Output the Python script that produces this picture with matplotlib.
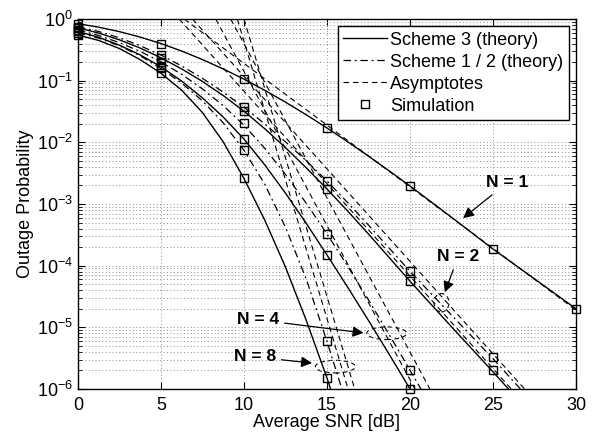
import numpy as np
import matplotlib
matplotlib.use('Agg')
import matplotlib.pyplot as plt
from matplotlib.lines import Line2D
from matplotlib.patches import Ellipse
from matplotlib.ticker import NullFormatter

plt.rcParams['font.family'] = ['Liberation Sans', 'DejaVu Sans']
plt.rcParams['mathtext.default'] = 'regular'
plt.rcParams['font.size'] = 13

# theory curves, values (SNR in dB, outage probability)
snr_n1 = [0, 1.25, 2.5, 3.75, 5, 6.25, 7.5, 8.75, 10, 11.25, 12.5, 13.75, 15, 16.25, 17.5, 18.75,
          20, 22.5, 25, 27.5, 30]
p_n1 = [0.839, 0.737, 0.624, 0.509, 0.40, 0.302, 0.220, 0.155, 0.106, 0.0698, 0.0448, 0.028,
        0.0171, 0.0102, 5.97e-3, 3.44e-3, 1.96e-3, 6.1e-4, 1.86e-4, 6.1e-5, 2.0e-5]

snr_n2 = [0, 1.25, 2.5, 3.75, 5, 6.25, 7.5, 8.75, 10, 11.25, 12.5, 13.75, 15, 16.25, 17.5,
          20, 22.5, 25, 27.5]
p_n2_s12 = [0.75, 0.627, 0.495, 0.369, 0.26, 0.173, 0.109, 0.0652, 0.037, 0.0199, 0.0102, 5.03e-3,
            2.36e-3, 1.05e-3, 4.55e-4, 8.1e-5, 1.58e-5, 3.1e-6, 5.6e-7]
p_n2_s3 = [0.72, 0.591, 0.459, 0.338, 0.235, 0.155, 0.097, 0.0574, 0.032, 0.01665, 8.2e-3, 3.87e-3,
           1.75e-3, 7.66e-4, 3.26e-4, 5.6e-5, 1.02e-5, 1.9e-6, 3.4e-7]

snr_n4 = [0, 1.25, 2.5, 3.75, 5, 6.25, 7.5, 8.75, 10, 11.25, 12.5, 13.75, 15, 16.25, 17.5, 18.75,
          20, 21.25]
p_n4_s12 = [0.67, 0.541, 0.413, 0.298, 0.202, 0.1265, 0.0735, 0.0394, 0.019, 8.0e-3, 3.02e-3,
            1.03e-3, 3.27e-4, 9.8e-5, 2.79e-5, 7.6e-6, 2.02e-6, 5.3e-7]
p_n4_s3 = [0.63, 0.505, 0.376, 0.262, 0.168, 0.0983, 0.0525, 0.0257, 0.0113, 4.32e-3, 1.5e-3,
           4.86e-4, 1.49e-4, 4.46e-5, 1.29e-5, 3.64e-6, 1.0e-6, 2.8e-7]

snr_n8 = [0, 1.25, 2.5, 3.75, 5, 6.25, 7.5, 8.75, 10, 11.25, 12.5, 13.75, 15, 16.25]
p_n8_s12 = [0.60, 0.49, 0.368, 0.253, 0.157, 0.0911, 0.047, 0.0207, 7.45e-3, 2.1e-3, 4.19e-4,
            6.09e-5, 5.92e-6, 4.98e-7]
p_n8_s3 = [0.55, 0.449, 0.332, 0.219, 0.132, 0.070, 0.0304, 0.01018, 2.6e-3, 5.5e-4, 9.5e-5,
           1.30e-5, 1.51e-6, 1.45e-7]

# simulation points
sim_snr = [0, 5, 10, 15, 20, 25, 30]
sim_n1 = [0.84, 0.40, 0.106, 0.0171, 1.96e-3, 1.86e-4, 2.0e-5]
sim_n2_s12 = [0.75, 0.26, 0.037, 2.36e-3, 8.2e-5, 3.3e-6]
sim_n2_s3 = [0.72, 0.235, 0.032, 1.75e-3, 5.6e-5, 2.0e-6]
sim_n4_s12 = [0.67, 0.20, 0.0205, 3.27e-4, 2.0e-6]
sim_n4_s3 = [0.63, 0.168, 0.0113, 1.49e-4, 1.0e-6]
sim_n8_s12 = [0.60, 0.158, 0.0075, 6.0e-6]
sim_n8_s3 = [0.55, 0.132, 0.0026, 1.5e-6]

# high-SNR asymptotes (straight lines), two end points each
asym_x = [[6.4, 30], [6.1, 26.1], [6.9, 26.9], [8.3, 20.3], [9.2, 21.2], [9.6, 16.27], [10.0, 16.67]]
asym_y = [[1, 1.9e-5], [1, 1e-6], [1, 1e-6], [1, 1e-6], [1, 1e-6], [1, 1e-6], [1, 1e-6]]

x_ticks = [0, 5, 10, 15, 20, 25, 30]
y_ticks = [1e-6, 1e-5, 1e-4, 1e-3, 1e-2, 1e-1, 1e0]

fig = plt.figure(figsize=(5.95, 4.37), dpi=100)
ax = fig.add_axes([0.131, 0.110, 0.837, 0.8465])
ax.set_yscale('log')
ax.set_xlim(0, 30)
ax.set_ylim(1e-6, 1)

solid = dict(color='k', lw=1.0, ls='-')
dashdot = dict(color='k', lw=0.9, ls=(0, (6, 3, 1.5, 3)))
dashed = dict(color='k', lw=0.8, ls=(0, (5, 3.5)))

for xs, ys in zip(asym_x, asym_y):
    ax.plot(xs, ys, **dashed)

ax.plot(snr_n1, p_n1, **solid)
ax.plot(snr_n2, p_n2_s12, **dashdot)
ax.plot(snr_n2, p_n2_s3, **solid)
ax.plot(snr_n4, p_n4_s12, **dashdot)
ax.plot(snr_n4, p_n4_s3, **solid)
ax.plot(snr_n8, p_n8_s12, **dashdot)
ax.plot(snr_n8, p_n8_s3, **solid)

for sim in [sim_n1, sim_n2_s12, sim_n2_s3, sim_n4_s12, sim_n4_s3, sim_n8_s12, sim_n8_s3]:
    ax.plot(sim_snr[:len(sim)], sim, ls='none', marker='s', ms=5.5, mfc='none',
            mec='k', mew=1.0, clip_on=False, zorder=5)

# grid and ticks, matlab style
ax.set_xticks(x_ticks)
ax.set_yticks(y_ticks)
minor_y = [m * d for d in y_ticks[:-1] for m in range(2, 10)]
ax.set_yticks(minor_y, minor=True)
ax.yaxis.set_minor_formatter(NullFormatter())
ax.grid(True, which='major', axis='both', color='0.55', ls=(0, (1, 2.5)), lw=0.7)
ax.grid(True, which='minor', axis='y', color='0.55', ls=(0, (1, 2.5)), lw=0.7)
ax.tick_params(which='both', direction='in', top=True, right=True, labelsize=13)
ax.tick_params(which='major', length=5)
ax.tick_params(which='minor', length=3)
ax.tick_params(axis='x', pad=6)
for sp in ax.spines.values():
    sp.set_linewidth(1.0)

ax.set_xlabel('Average SNR [dB]', fontsize=13, labelpad=0)
ax.set_ylabel('Outage Probability', fontsize=13, labelpad=2)

# ellipses grouping curves (drawn in axes fraction so they stay round on log axis)
ell_centers = [(18.6, 8.0e-6), (15.5, 2.3e-6), (21.9, 2.5e-5)]
ell_sizes = [(0.08, 0.034), (0.08, 0.034), (0.03, 0.05)]
to_axes = ax.transAxes.inverted()
for (cx, cy), (w, h) in zip(ell_centers, ell_sizes):
    px = to_axes.transform(ax.transData.transform((cx, cy)))
    ax.add_patch(Ellipse(px, w, h, transform=ax.transAxes, fill=False,
                         ec='k', lw=0.8, ls=(0, (4, 3))))

# labels with arrows
labels = ['N = 1', 'N = 2', 'N = 4', 'N = 8']
label_pos = [(25.85, 2.2e-3), (22.9, 1.38e-4), (10.85, 1.32e-5), (10.66, 3.3e-6)]
arrow_tip = [(23.2, 5.9e-4), (22.1, 3.7e-5), (17.2, 8.1e-6), (14.1, 2.63e-6)]
for txt, pos, tip in zip(labels, label_pos, arrow_tip):
    ax.annotate(txt, xy=tip, xytext=pos, ha='center', va='center',
                fontsize=12.5, fontweight='bold',
                arrowprops=dict(arrowstyle='-|>', color='k', lw=0.9,
                                mutation_scale=16, shrinkA=2, shrinkB=0))

handles = [Line2D([], [], **solid),
           Line2D([], [], **dashdot),
           Line2D([], [], **dashed),
           Line2D([], [], ls='none', marker='s', ms=5.5, mfc='none', mec='k', mew=1.0)]
leg = ax.legend(handles, ['Scheme 3 (theory)', 'Scheme 1 / 2 (theory)', 'Asymptotes', 'Simulation'],
                loc='upper right', fontsize=13, fancybox=False, framealpha=1,
                edgecolor='k', handlelength=2.4, handletextpad=0.2,
                labelspacing=0.28, borderpad=0.3, borderaxespad=0.4)
leg.get_frame().set_linewidth(1.0)

fig.savefig('out.png', dpi=100)
